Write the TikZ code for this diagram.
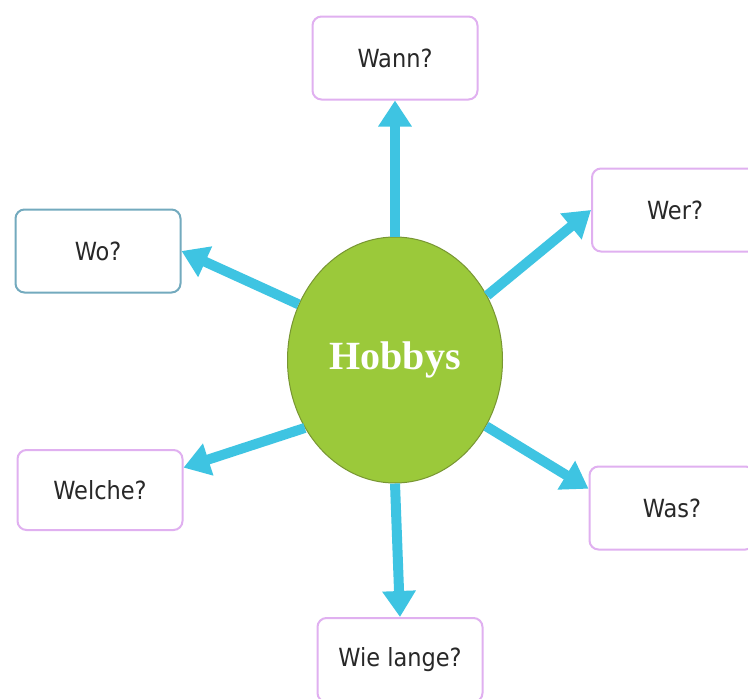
\documentclass[tikz,border=0pt]{standalone}
\usepackage{fontspec}
\usetikzlibrary{arrows.meta,shapes.geometric}
\newfontfamily\boxfont{DejaVu Sans Condensed}
\newfontfamily\hobfont{Liberation Serif}
\definecolor{arrowcyan}{RGB}{62,196,226}
\definecolor{hobgreen}{RGB}{155,201,58}
\definecolor{hobedge}{RGB}{120,150,50}
\definecolor{lilac}{RGB}{224,176,240}
\definecolor{tealedge}{RGB}{115,170,190}
\definecolor{txt}{RGB}{40,40,40}
\tikzset{
  qbox/.style={draw=lilac, line width=2pt, rounded corners=9pt, fill=white,
    minimum width=165pt, minimum height=83pt, inner sep=0pt,
    font=\boxfont\fontsize{25}{29}\selectfont, text=txt},
  arr/.style={draw=arrowcyan, line width=10pt,
    -{Triangle[width=32pt,length=26pt]}},
}
\begin{document}
\begin{tikzpicture}[x=1pt,y=-1pt]
\useasboundingbox (0,0) rectangle (748,699);
\clip (0,0) rectangle (748,699);
\fill[white] (0,0) rectangle (748,699);
\node[ellipse, draw=hobedge, line width=1pt, fill=hobgreen,
  minimum width=215pt, minimum height=246pt, inner sep=0pt,
  font=\hobfont\bfseries\fontsize{40}{42}\selectfont, text=white] (hob) at (395,360) {Hobbys};
\node[qbox] (wann) at (395,58) {Wann?};
\node[qbox, minimum width=166pt] (wer) at (675,210) {Wer?};
\node[qbox, draw=tealedge] (wo) at (98,251) {Wo?};
\node[qbox, minimum height=80pt] (welche) at (100,490) {Welche?};
\node[qbox] (was) at (672,508) {Was?};
\node[qbox, minimum height=84pt] (wie) at (400,660) {Wie lange?};
\draw[arr] (hob.north) -- (wann.south);
\draw[arr] (hob.35) -- (wer.west);
\draw[arr] (hob.150) -- (wo.east);
\draw[arr] (hob.217) -- (welche.15);
\draw[arr] (hob.-36) -- (was.167);
\draw[arr] (hob.south) -- (wie.north);
\end{tikzpicture}
\end{document}
